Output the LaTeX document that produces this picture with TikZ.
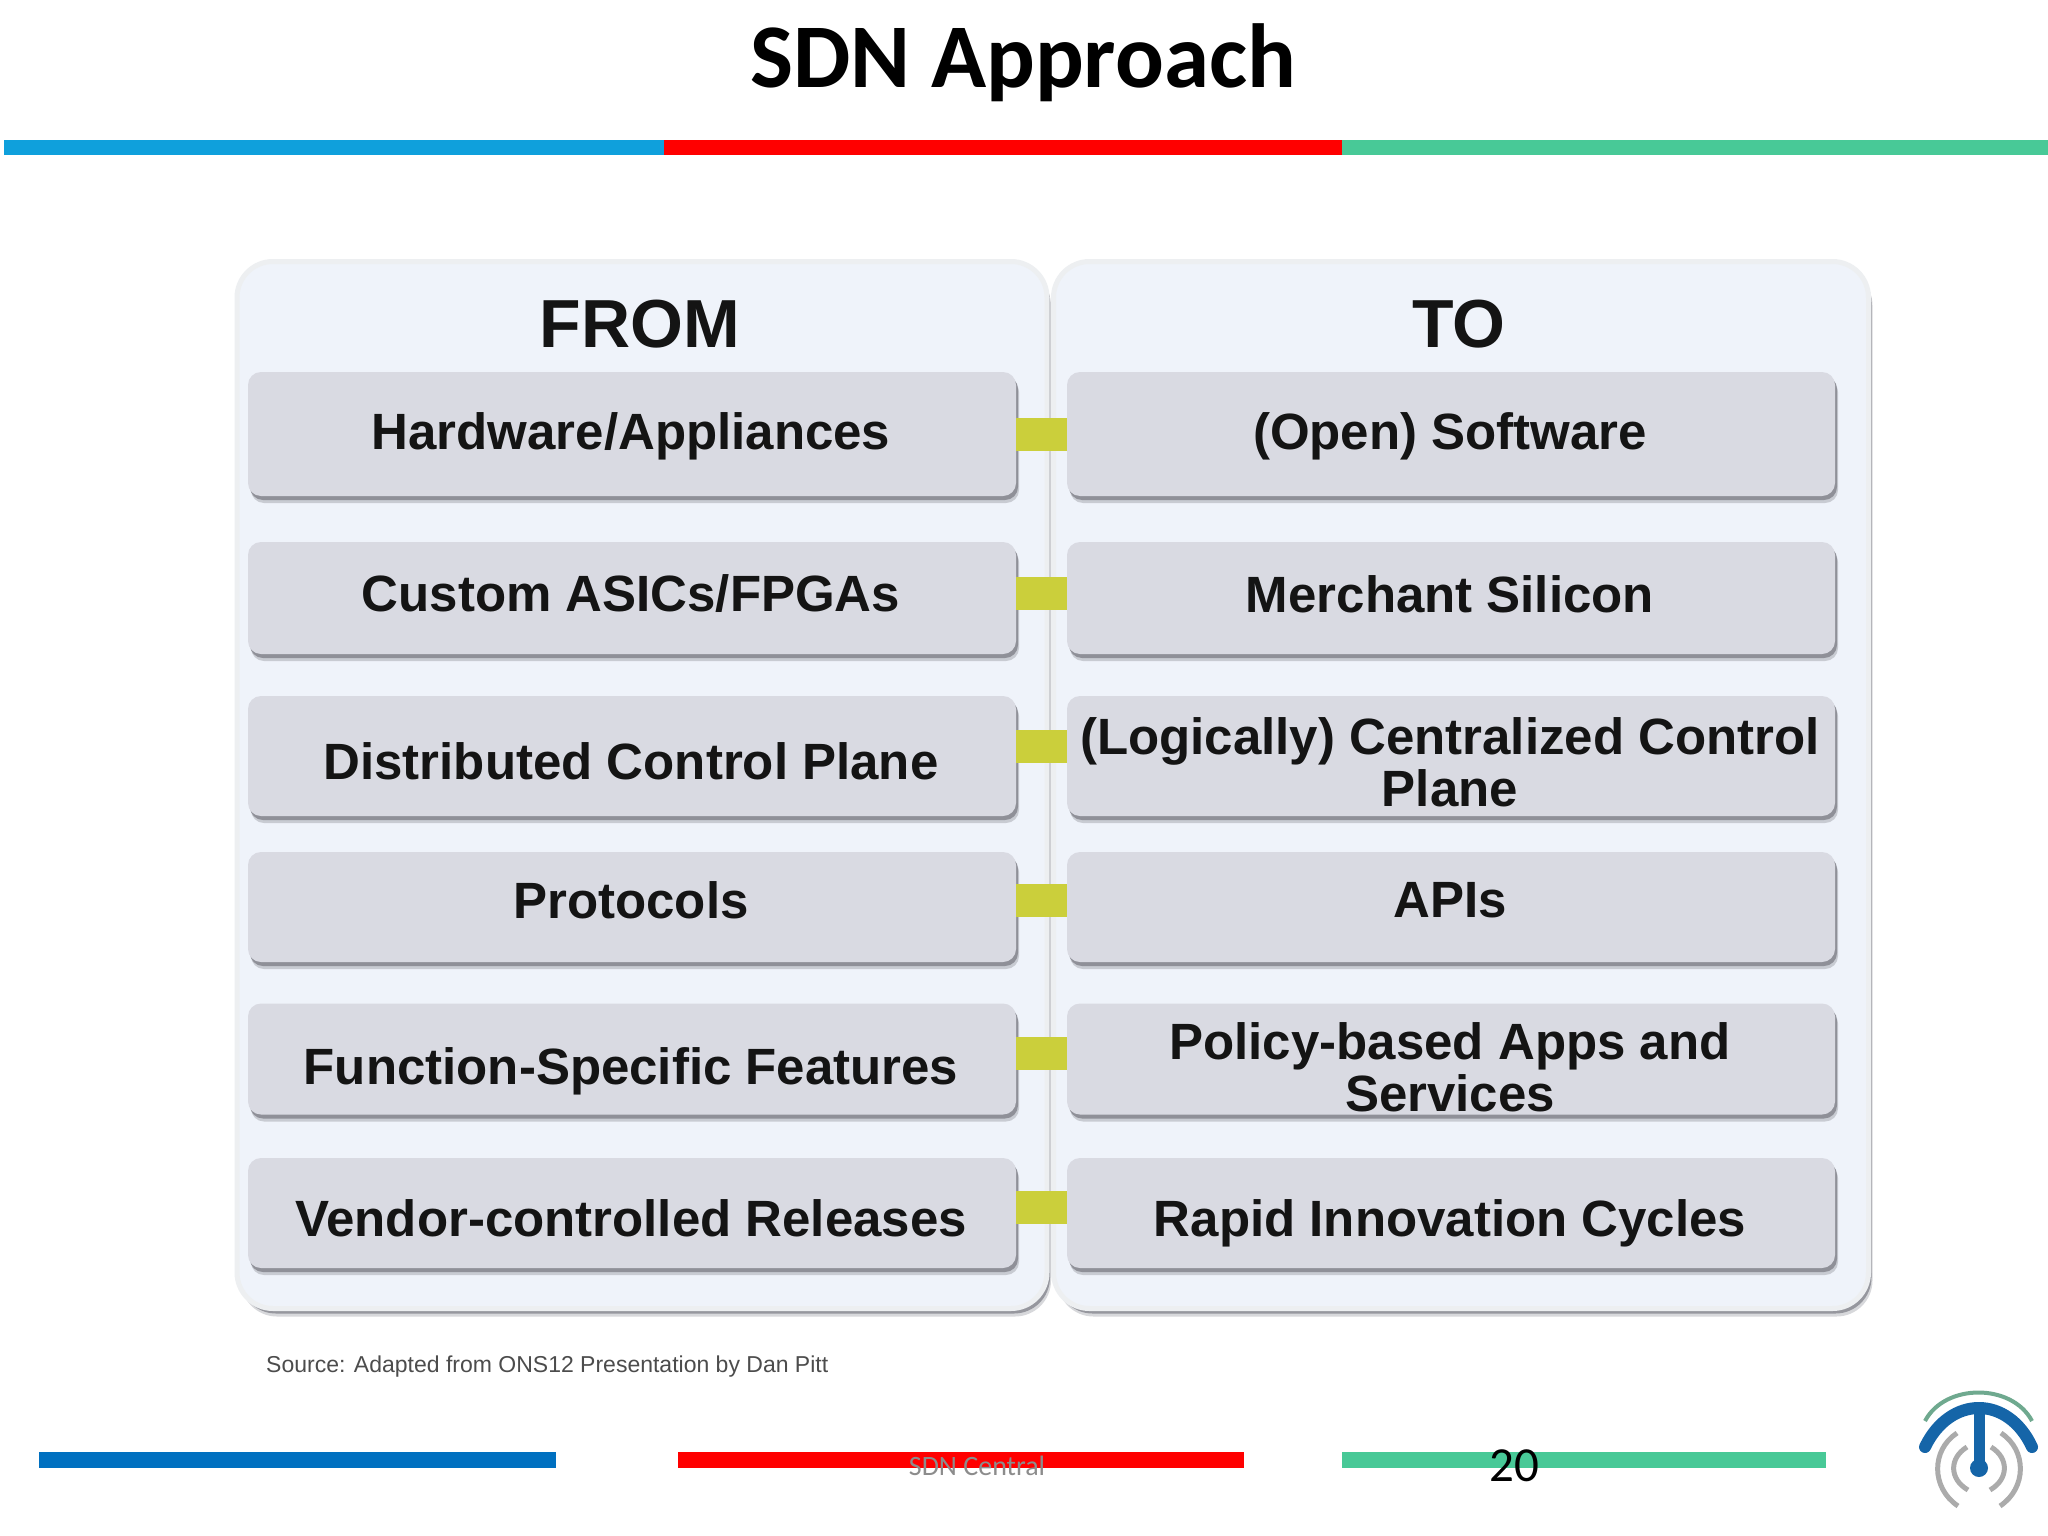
\documentclass[tikz,border=0pt]{standalone}
\usepackage{fontspec}
\setmainfont{Liberation Sans}
\newfontfamily\carlito{Carlito}
\usetikzlibrary{shadows}
\definecolor{panelfill}{HTML}{EFF3FA}
\definecolor{paneledge}{HTML}{EDEFF1}
\definecolor{rowfill}{HTML}{D9DAE2}
\definecolor{rowshadow}{HTML}{8F9098}
\definecolor{linkcol}{HTML}{CBCF3B}
\definecolor{topblue}{HTML}{0FA0DC}
\definecolor{botblue}{HTML}{0070C0}
\definecolor{barred}{HTML}{FF0000}
\definecolor{bargreen}{HTML}{48C997}
\definecolor{logoblue}{HTML}{1565A8}
\definecolor{logogreen}{HTML}{6FA98F}
\definecolor{logogray}{HTML}{ABABAB}
\tikzset{
  panelbox/.style={draw=paneledge,line width=5pt,fill=panelfill,rounded corners=36pt,
    minimum height=1047pt,inner sep=0pt,
    drop shadow={shadow xshift=4pt,shadow yshift=-8pt,fill=rowshadow,opacity=.35},
    drop shadow={shadow xshift=3pt,shadow yshift=-5pt,fill=rowshadow,opacity=.9}},
  rowbox/.style={fill=rowfill,rounded corners=13pt,inner sep=0pt,minimum width=768pt,
    drop shadow={shadow xshift=3pt,shadow yshift=-7pt,fill=rowshadow,opacity=.4},
    drop shadow={shadow xshift=2pt,shadow yshift=-4pt,fill=rowshadow,opacity=1}},
  rowtext/.style={font=\bfseries\fontsize{51}{52}\selectfont,text=black!92,align=center,inner sep=0pt},
  headtext/.style={font=\bfseries\fontsize{68}{70}\selectfont,text=black!92,inner sep=0pt},
  linkbar/.style={draw=linkcol,line width=33pt},
  bar/.style={inner sep=0pt,outer sep=0pt,anchor=north west},
}
\begin{document}
\begin{tikzpicture}[x=1pt,y=-1pt]
\useasboundingbox (0,0) rectangle (2048,1536);
\fill[white] (0,0) rectangle (2048,1536);
% title and top bars
\node[font=\carlito\bfseries\fontsize{91}{93}\selectfont,inner sep=0pt] (title) at (1023,63) {SDN Approach};
\node[bar,fill=topblue,minimum width=660pt,minimum height=15pt] (t1) at (4,140) {};
\node[bar,fill=barred,minimum width=678pt,minimum height=15pt] (t2) at (664,140) {};
\node[bar,fill=bargreen,minimum width=706pt,minimum height=15pt] (t3) at (1342,140) {};
% panels
\node[panelbox,minimum width=810pt] (pl) at (642,785) {};
\node[panelbox,minimum width=815pt] (pr) at (1461,785) {};
\node[headtext] (from) at (640,324) {FROM};
\node[headtext] (to) at (1459,324) {TO};
% rows
\node[rowbox,minimum height=124pt] (l1) at (632,434) {};
\node[rowbox,minimum height=112pt] (l2) at (632,598) {};
\node[rowbox,minimum height=120pt] (l3) at (632,756) {};
\node[rowbox,minimum height=110pt] (l4) at (632,907) {};
\node[rowbox,minimum height=111pt] (l5) at (632,1059) {};
\node[rowbox,minimum height=110pt] (l6) at (632,1213) {};
\node[rowbox,minimum height=124pt] (r1) at (1451,434) {};
\node[rowbox,minimum height=112pt] (r2) at (1451,598) {};
\node[rowbox,minimum height=120pt] (r3) at (1451,756) {};
\node[rowbox,minimum height=110pt] (r4) at (1451,907) {};
\node[rowbox,minimum height=111pt] (r5) at (1451,1059) {};
\node[rowbox,minimum height=110pt] (r6) at (1451,1213) {};
% connectors
\coordinate (c1) at (0,434);
\coordinate (c2) at (0,593);
\coordinate (c3) at (0,746);
\coordinate (c4) at (0,900);
\coordinate (c5) at (0,1053);
\coordinate (c6) at (0,1207);
\foreach \i in {1,...,6}{\draw[linkbar] (l\i.east |- c\i) -- (r\i.west |- c\i);}
% row texts
\node[rowtext] (tl1) at (631,436) {Hardware/Appliances};
\node[rowtext] (tl2) at (631,594) {Custom ASICs/FPGAs};
\node[rowtext] (tl3) at (631,761) {Distributed Control Plane};
\node[rowtext] (tl4) at (631,900) {Protocols};
\node[rowtext] (tl5) at (631,1071) {Function-Specific Features};
\node[rowtext] (tl6) at (631,1218) {Vendor-controlled Releases};
\node[rowtext] (tr1) at (1450,436) {(Open) Software};
\node[rowtext] (tr2) at (1450,594) {Merchant Silicon};
\node[rowtext] (tr3) at (1450,762) {(Logically) Centralized Control\\Plane};
\node[rowtext] (tr4) at (1450,900) {APIs};
\node[rowtext] (tr5) at (1450,1067) {Policy-based Apps and\\Services};
\node[rowtext] (tr6) at (1450,1223) {Rapid Innovation Cycles};
% source
\node[font=\fontsize{23}{25}\selectfont,text=black!70,anchor=west,inner sep=0pt] (src) at (266,1367) {Source: Adapted from ONS12 Presentation by Dan Pitt};
% footer bars
\node[bar,fill=botblue,minimum width=517pt,minimum height=16pt] (b1) at (39,1452) {};
\node[bar,fill=barred,minimum width=566pt,minimum height=16pt] (b2) at (678,1452) {};
\node[bar,fill=bargreen,minimum width=484pt,minimum height=16pt] (b3) at (1342,1452) {};
\node[font=\carlito\fontsize{28}{30}\selectfont,text=black!45,inner sep=0pt] (foot) at (977,1466) {SDN Central};
\node[font=\carlito\fontsize{49}{51}\selectfont,inner sep=0pt] (num) at (1514,1466) {20};
% logo
\draw[logogreen,line width=4pt] (1925,1421) .. controls (1945,1383) and (2012,1383) .. (2032,1421);
\draw[logoblue,line width=12pt,line cap=round] (1925,1447) .. controls (1950,1395) and (2008,1395) .. (2032,1447);
\draw[logoblue,line width=11pt] (1979,1412) -- (1979,1468);
\fill[logoblue] (1979,1468) circle (9pt);
\draw[logogray,line width=5pt] (1957,1433) .. controls (1931,1450) and (1931,1488) .. (1958,1506);
\draw[logogray,line width=5pt] (2001,1433) .. controls (2027,1450) and (2027,1488) .. (2000,1506);
\draw[logogray,line width=5pt] (1967,1447) .. controls (1949,1458) and (1949,1479) .. (1968,1490);
\draw[logogray,line width=5pt] (1991,1447) .. controls (2009,1458) and (2009,1479) .. (1990,1490);
\end{tikzpicture}
\end{document}
